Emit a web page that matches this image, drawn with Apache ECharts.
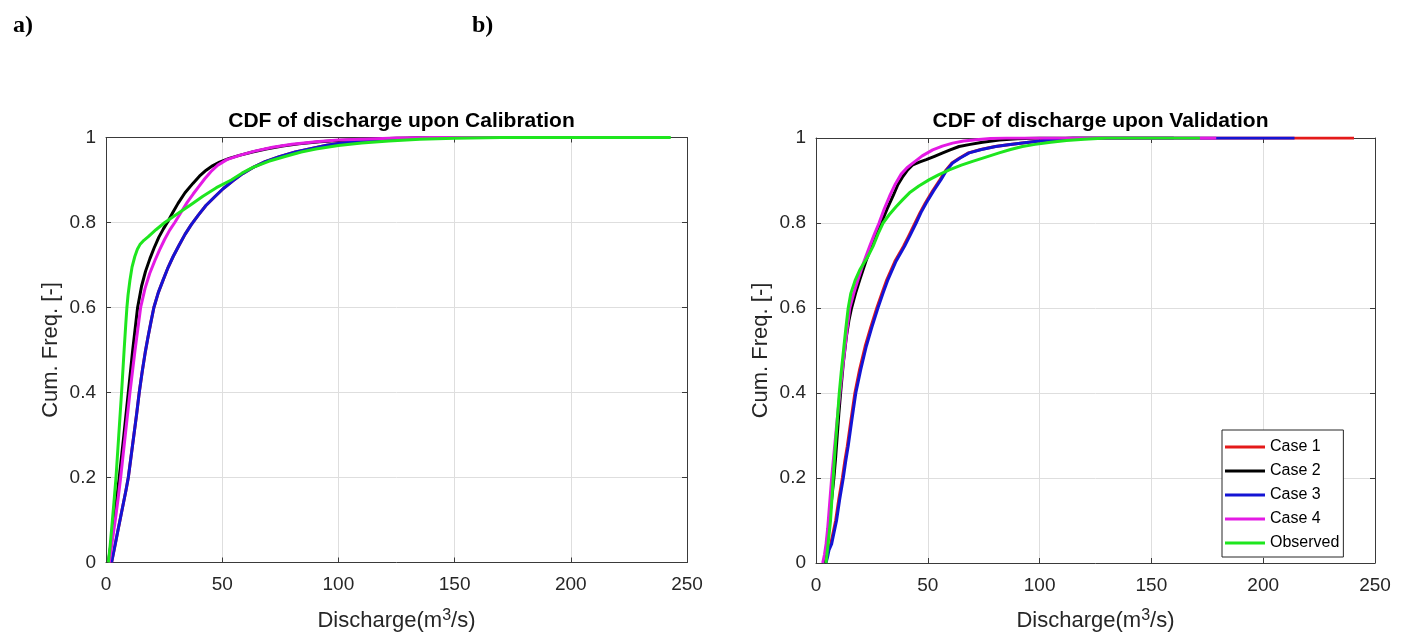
<!DOCTYPE html>
<html>
<head>
<meta charset="utf-8">
<script src="https://cdn.jsdelivr.net/npm/echarts@6/dist/echarts.min.js"></script>
<style>html,body{margin:0;padding:0;background:#fff}#c{width:1408px;height:641px}</style>
</head>
<body>
<div id="c"></div>
<script>
// ---- Data (discharge m3/s, cumulative frequency) ----
var seriesNames = ['Case 1', 'Case 2', 'Case 3', 'Case 4', 'Observed'];
var xTicks = [0, 50, 100, 150, 200, 250];
var yTicks = [0, 0.2, 0.4, 0.6, 0.8, 1];

// Calibration (panel a)
var calCase1 = [[2.4,0],[3.5,0.03],[4.4,0.055],[5.3,0.08],[6.4,0.11],[7.5,0.14],[8.6,0.17],[9.6,0.2],[10.8,0.25],[12,0.3],[13.2,0.35],[14.3,0.4],[15.6,0.45],[16.9,0.495],[18.1,0.531],[19.3,0.565],[20.6,0.6],[22.5,0.635],[24.6,0.665],[26.7,0.694],[28.9,0.72],[31.5,0.747],[34,0.772],[36.7,0.795],[39.8,0.818],[43,0.84],[46.7,0.86],[50.5,0.88],[54.6,0.898],[58.8,0.915],[63.1,0.929],[68.5,0.943],[74.6,0.955],[81.5,0.966],[89,0.975],[95,0.982],[100,0.986],[110,0.992],[121.7,0.996],[135,0.999],[145,1],[215,1]];
var calCase2 = [[1,0],[2.3,0.05],[3.5,0.1],[4.6,0.15],[5.7,0.2],[7.7,0.3],[9.6,0.4],[11.5,0.5],[13.6,0.6],[15.3,0.65],[17,0.685],[18.9,0.715],[20.7,0.74],[22.7,0.765],[24.7,0.785],[26.7,0.803],[28.8,0.824],[31,0.845],[34,0.87],[37.4,0.892],[40.2,0.909],[43.1,0.923],[46,0.934],[48.9,0.942],[53,0.951],[57.4,0.958],[63,0.966],[68.9,0.973],[76,0.98],[83,0.985],[92,0.99],[100,0.993],[112,0.996],[125,0.998],[150,1],[190,1]];
var calCase3 = [[2.4,0],[3.5,0.03],[4.4,0.055],[5.3,0.08],[6.4,0.11],[7.5,0.14],[8.6,0.17],[9.6,0.2],[10.8,0.25],[12,0.3],[13.2,0.35],[14.3,0.4],[15.6,0.45],[16.9,0.495],[18.1,0.531],[19.3,0.565],[20.6,0.6],[22.5,0.635],[24.6,0.665],[26.7,0.694],[28.9,0.72],[31.5,0.747],[34,0.772],[36.7,0.795],[39.8,0.818],[43,0.84],[46.7,0.86],[50.5,0.88],[54.6,0.898],[58.8,0.915],[63.1,0.929],[68.5,0.943],[74.6,0.955],[81.5,0.966],[89,0.975],[95,0.982],[100,0.986],[110,0.992],[121.7,0.996],[135,0.999],[145,1],[210,1]];
var calCase4 = [[1.4,0],[2.7,0.05],[4,0.1],[5.2,0.15],[6.3,0.2],[8.3,0.3],[10.3,0.4],[12.5,0.5],[14.9,0.6],[16.8,0.645],[18.8,0.68],[21,0.71],[23,0.735],[25.2,0.76],[27.4,0.782],[29.6,0.8],[32.5,0.826],[35,0.848],[37.5,0.867],[40,0.885],[42.5,0.903],[45.2,0.92],[48.1,0.935],[52,0.948],[57.4,0.958],[64,0.968],[71.7,0.977],[80,0.984],[90.3,0.99],[100,0.994],[110,0.996],[125,0.999],[140,1],[200,1]];
var calObserved = [[1,0],[1.8,0.04],[2.6,0.09],[3.4,0.14],[4.3,0.2],[5.5,0.3],[6.7,0.4],[7.8,0.5],[8.5,0.56],[9,0.6],[9.5,0.63],[10.3,0.664],[11.2,0.695],[12.4,0.72],[13.5,0.737],[14.6,0.748],[16.3,0.758],[18.1,0.766],[21.5,0.783],[25.3,0.8],[31.7,0.824],[36.5,0.842],[41.7,0.862],[47.5,0.882],[53.9,0.9],[58.5,0.916],[63,0.929],[70,0.944],[77.4,0.956],[84,0.966],[90.3,0.973],[100,0.981],[110,0.987],[121.7,0.992],[135,0.996],[150,0.998],[170,1],[243,1]];

// Validation (panel b)
var valCase1 = [[4.3,0],[4.9,0.015],[5.4,0.03],[6.6,0.045],[7.6,0.07],[8.8,0.1],[10.2,0.15],[11.8,0.2],[12.9,0.24],[14,0.275],[15.6,0.335],[17.4,0.4],[19.5,0.455],[22,0.51],[24.5,0.555],[27.2,0.6],[29.5,0.635],[31.7,0.667],[35.3,0.71],[39.1,0.745],[41.7,0.772],[44.3,0.8],[46.6,0.825],[48.9,0.847],[52.1,0.875],[55.5,0.902],[58.2,0.925],[60.8,0.941],[64.2,0.953],[68.2,0.965],[73.7,0.973],[80.1,0.98],[86,0.984],[92.3,0.988],[98,0.992],[105,0.996],[110,0.998],[115,1],[240.6,1]];
var valCase2 = [[4,0],[4.7,0.04],[5.5,0.078],[6.8,0.14],[8,0.2],[8.8,0.25],[9.5,0.3],[10.2,0.35],[11,0.4],[12.2,0.47],[13.6,0.533],[14.7,0.57],[15.9,0.6],[17.7,0.635],[19.6,0.667],[22.2,0.708],[24.8,0.745],[27,0.774],[29.2,0.8],[31.8,0.833],[34.4,0.863],[36.6,0.89],[38.9,0.91],[41,0.925],[43.3,0.937],[46.5,0.944],[49.3,0.949],[53,0.957],[56.7,0.965],[60,0.972],[64,0.98],[69,0.985],[74.5,0.99],[82,0.995],[90,0.998],[100,1],[160,1]];
var valCase3 = [[4.5,0],[5.2,0.015],[5.8,0.03],[7,0.045],[8,0.07],[9.2,0.1],[10.6,0.15],[12.2,0.2],[13.3,0.24],[14.4,0.275],[16,0.335],[17.8,0.4],[20,0.455],[22.5,0.51],[25,0.555],[27.7,0.6],[30,0.635],[32.2,0.667],[35.8,0.71],[39.6,0.745],[42.2,0.772],[44.8,0.8],[47,0.825],[49.3,0.847],[52.5,0.875],[55.9,0.902],[58.5,0.925],[61.1,0.941],[64.5,0.953],[68.5,0.965],[74,0.973],[80.4,0.98],[86,0.984],[92.3,0.988],[98,0.992],[105,0.996],[110,0.998],[115,1],[214,1]];
var valCase4 = [[3,0],[3.8,0.02],[4.5,0.045],[5.2,0.08],[5.8,0.12],[6.4,0.16],[7,0.2],[7.9,0.25],[8.8,0.3],[9.7,0.35],[10.7,0.4],[11.7,0.45],[12.8,0.5],[13.9,0.55],[15.1,0.6],[16.9,0.635],[18.8,0.667],[21.3,0.707],[24,0.745],[26,0.772],[28.2,0.8],[30.5,0.833],[32.9,0.863],[35.5,0.892],[38.1,0.915],[40.7,0.93],[43.3,0.941],[47.5,0.958],[52.2,0.972],[56.5,0.981],[61.1,0.988],[66,0.993],[71.5,0.996],[78,0.999],[85,1],[179,1]];
var valObserved = [[4.5,0],[5.5,0.05],[6.5,0.1],[7.1,0.15],[7.7,0.2],[8.3,0.25],[9,0.3],[9.7,0.35],[10.4,0.4],[11.3,0.45],[12.3,0.5],[13.3,0.55],[14.4,0.6],[15.6,0.635],[17.5,0.665],[19.6,0.69],[23.3,0.722],[25.5,0.745],[27.8,0.775],[30,0.8],[32.8,0.82],[35.9,0.839],[38.8,0.855],[41.8,0.871],[46,0.887],[50.7,0.902],[55,0.914],[59.6,0.925],[65,0.936],[70,0.945],[76,0.955],[81.9,0.965],[87,0.973],[92.3,0.98],[98,0.985],[105,0.99],[112,0.994],[120,0.997],[130,1],[171.7,1]];

var colors = ['#e41a1a', '#000000', '#1414d4', '#e41ae4', '#1ee61e'];
var calData = [calCase1, calCase2, calCase3, calCase4, calObserved];
var valData = [valCase1, valCase2, valCase3, valCase4, valObserved];

var FONT = 'Liberation Sans, Arial, Helvetica, sans-serif';
var axisColor = '#3a3a3a';
var textColor = '#262626';

function xAx(grid, pos, main) {
  return {
    type: 'value', gridIndex: grid, position: pos, min: xTicks[0], max: xTicks[xTicks.length - 1], interval: 50,
    axisLine: { show: true, onZero: false, lineStyle: { color: axisColor, width: 1 } },
    axisTick: { show: true, inside: true, length: 5, lineStyle: { color: axisColor } },
    axisLabel: { show: main, color: textColor, fontSize: 19, fontFamily: FONT, margin: 13 },
    splitLine: { show: main, lineStyle: { color: '#dedede', width: 1 } },
    name: main ? 'Discharge(m{sup|3}/s)' : '', nameLocation: 'middle', nameGap: 45,
    nameTextStyle: { color: textColor, fontSize: 22, fontFamily: FONT,
      rich: { sup: { fontSize: 16, fontFamily: FONT, color: textColor, padding: [0, 0, 10, 0] } } }
  };
}
function yAx(grid, pos, main) {
  return {
    type: 'value', gridIndex: grid, position: pos, min: yTicks[0], max: yTicks[yTicks.length - 1], interval: 0.2,
    axisLine: { show: true, onZero: false, lineStyle: { color: axisColor, width: 1 } },
    axisTick: { show: true, inside: true, length: 5, lineStyle: { color: axisColor } },
    axisLabel: { show: main, color: textColor, fontSize: 19, fontFamily: FONT, margin: 10 },
    splitLine: { show: main, lineStyle: { color: '#dedede', width: 1 } },
    name: main ? 'Cum. Freq. [-]' : '', nameLocation: 'middle', nameGap: 44,
    nameTextStyle: { color: textColor, fontSize: 22, fontFamily: FONT }
  };
}

var series = [];
[calData, valData].forEach(function (set, g) {
  set.forEach(function (d, i) {
    series.push({
      name: seriesNames[i], type: 'line', data: d,
      xAxisIndex: g * 2, yAxisIndex: g * 2,
      showSymbol: false, symbol: 'none', smooth: false,
      lineStyle: { color: colors[i], width: 3, join: 'round' }, itemStyle: { color: colors[i] },
      z: 2 + i, animation: false
    });
  });
});

var chart = echarts.init(document.getElementById('c'));
chart.setOption({
  backgroundColor: '#ffffff',
  animation: false,
  title: [
    { text: 'CDF of discharge upon Calibration', left: 396.5, textAlign: 'center', top: 106,
      textStyle: { fontSize: 21, fontWeight: 'bold', color: '#000', fontFamily: FONT } },
    { text: 'CDF of discharge upon Validation', left: 1095.5, textAlign: 'center', top: 106,
      textStyle: { fontSize: 21, fontWeight: 'bold', color: '#000', fontFamily: FONT } },
    { text: 'a)', left: 8, top: 9, textStyle: { fontSize: 24, fontWeight: 'bold', color: '#000', fontFamily: 'Liberation Serif, Times New Roman, serif' } },
    { text: 'b)', left: 467, top: 9, textStyle: { fontSize: 24, fontWeight: 'bold', color: '#000', fontFamily: 'Liberation Serif, Times New Roman, serif' } }
  ],
  legend: {
    data: seriesNames, orient: 'vertical', left: 1222, top: 430,
    icon: 'rect', itemWidth: 40, itemHeight: 3, itemGap: 8,
    padding: [9, 4, 6, 3],
    borderColor: '#262626', borderWidth: 1, backgroundColor: '#fff',
    textStyle: { fontSize: 16, color: '#000', fontFamily: FONT, lineHeight: 15 }
  },
  grid: [
    { left: 106, top: 137.5, width: 581, height: 425 },
    { left: 816, top: 138, width: 559, height: 425 }
  ],
  xAxis: [xAx(0, 'bottom', true), xAx(0, 'top', false), xAx(1, 'bottom', true), xAx(1, 'top', false)],
  yAxis: [yAx(0, 'left', true), yAx(0, 'right', false), yAx(1, 'left', true), yAx(1, 'right', false)],
  series: series
});
</script>
</body>
</html>
